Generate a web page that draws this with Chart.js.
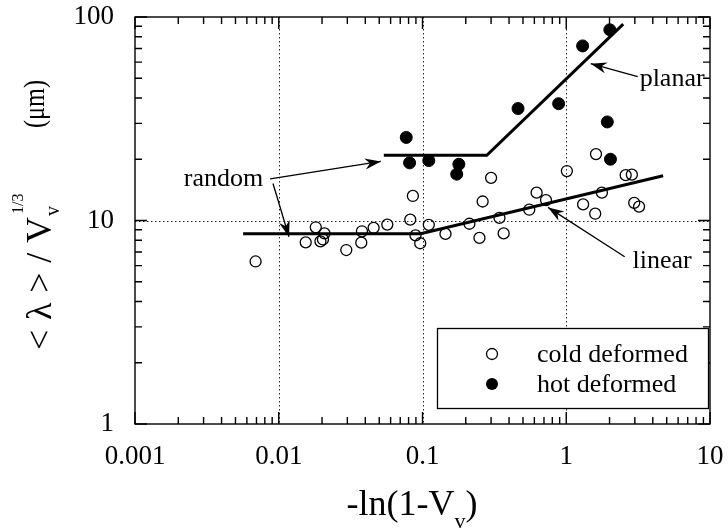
<!DOCTYPE html>
<html lang="en">
<head>
<meta charset="UTF-8">
<title>Spacing vs -ln(1-Vv)</title>
<script src="https://cdn.jsdelivr.net/npm/chart.js"></script>
<style>
  html, body { margin: 0; padding: 0; background: #fff; }
</style>
</head>
<body>
<canvas id="chart" width="728" height="529"></canvas>
<script>
// data
const coldX = [0.0069, 0.0154, 0.0181, 0.0208, 0.0195, 0.0203, 0.0295, 0.0379, 0.0375, 0.0457,
               0.0569, 0.0822, 0.0857, 0.0894, 0.0964, 0.1106, 0.1445, 0.212, 0.249, 0.300,
               0.262, 0.343, 0.367, 0.553, 0.622, 0.723, 1.01, 1.31, 1.59, 1.77,
               1.61, 2.59, 2.86, 2.97, 3.21];
const coldY = [6.29, 7.81, 9.26, 8.65, 7.90, 8.07, 7.16, 8.85, 7.78, 9.20,
               9.55, 10.1, 13.2, 8.45, 7.73, 9.52, 8.59, 9.64, 8.21, 16.2,
               12.4, 10.3, 8.64, 11.3, 13.7, 12.6, 17.5, 12.0, 10.8, 13.7,
               21.2, 16.7, 16.8, 12.2, 11.7];
const hotX = [0.0771, 0.0813, 0.1106, 0.179, 0.173, 0.462, 0.885, 1.30, 2.01, 1.93, 2.03];
const hotY = [25.6, 19.2, 19.7, 18.9, 16.9, 35.5, 37.5, 72.1, 86.5, 30.5, 20.0];

// fitted lines (random -> linear, random -> planar)
const coldFitX = [0.00565, 0.097, 4.72];
const coldFitY = [8.6, 8.6, 16.6];
const hotFitX = [0.0538, 0.28, 2.49];
const hotFitY = [20.9, 20.9, 92.3];

const xTicks = [0.001, 0.01, 0.1, 1, 10];
const xTickLabels = ['0.001', '0.01', '0.1', '1', '10'];
const yTicks = [1, 10, 100];
const yTickLabels = ['1', '10', '100'];
const seriesNames = ['cold deformed', 'hot deformed'];

// annotation labels and arrows, in data units
const notes = [
  { text: 'planar', x: 5.45, y: 45.8 },
  { text: 'linear', x: 4.64, y: 5.84 },
  { text: 'random', x: 0.00413, y: 14.7 }
];
const arrows = [
  { from: [3.14, 50.9], to: [1.48, 59.0] },
  { from: [2.55, 6.64], to: [0.747, 11.6] },
  { from: [0.00871, 16.0], to: [0.0513, 19.5] },
  { from: [0.00912, 15.2], to: [0.01178, 8.32] }
];

const SERIF = '"Liberation Serif", "Times New Roman", serif';

function pts(xs, ys) {
  return xs.map((x, i) => ({ x: x, y: ys[i] }));
}

function minors(lo, hi) {
  const out = [];
  for (let d = lo; d < hi * 0.999; d *= 10) {
    for (let k = 2; k <= 9; k++) out.push(d * k);
  }
  return out;
}

function noPad(s) {
  s.paddingTop = 0; s.paddingBottom = 0; s.paddingLeft = 0; s.paddingRight = 0;
}

function arrowHead(ctx, x1, y1, x2, y2) {
  const a = Math.atan2(y2 - y1, x2 - x1);
  const len = 16, half = 5.5, notch = 11;
  ctx.save();
  ctx.translate(x2, y2);
  ctx.rotate(a);
  ctx.beginPath();
  ctx.moveTo(0, 0);
  ctx.lineTo(-len, -half);
  ctx.lineTo(-notch, 0);
  ctx.lineTo(-len, half);
  ctx.closePath();
  ctx.fill();
  ctx.restore();
}

const framePlugin = {
  id: 'frame',
  beforeDatasetsDraw(chart) {
    const { ctx, chartArea: a, scales } = chart;
    ctx.save();
    ctx.strokeStyle = '#222';
    ctx.lineWidth = 1;
    ctx.setLineDash([1.5, 2.5]);
    xTicks.slice(1, -1).forEach(v => {
      const px = Math.round(scales.x.getPixelForValue(v)) + 0.5;
      ctx.beginPath(); ctx.moveTo(px, a.top); ctx.lineTo(px, a.bottom); ctx.stroke();
    });
    yTicks.slice(1, -1).forEach(v => {
      const py = Math.round(scales.y.getPixelForValue(v)) + 0.5;
      ctx.beginPath(); ctx.moveTo(a.left, py); ctx.lineTo(a.right, py); ctx.stroke();
    });
    ctx.restore();
  },
  afterDatasetsDraw(chart) {
    const { ctx, chartArea: a, scales } = chart;
    ctx.save();
    ctx.strokeStyle = '#000';
    ctx.fillStyle = '#000';
    ctx.lineWidth = 1.4;

    // inward ticks on four sides
    const tick = (v, len, horiz) => {
      if (horiz) {
        const px = scales.x.getPixelForValue(v);
        ctx.beginPath();
        ctx.moveTo(px, a.bottom); ctx.lineTo(px, a.bottom - len);
        ctx.moveTo(px, a.top); ctx.lineTo(px, a.top + len);
        ctx.stroke();
      } else {
        const py = scales.y.getPixelForValue(v);
        ctx.beginPath();
        ctx.moveTo(a.left, py); ctx.lineTo(a.left + len, py);
        ctx.moveTo(a.right, py); ctx.lineTo(a.right - len, py);
        ctx.stroke();
      }
    };
    xTicks.forEach(v => tick(v, 12, true));
    minors(0.001, 10).forEach(v => tick(v, 7, true));
    yTicks.forEach(v => tick(v, 12, false));
    minors(1, 100).forEach(v => tick(v, 7, false));

    ctx.strokeRect(a.left, a.top, a.right - a.left, a.bottom - a.top);

    // legend box
    const bx = a.right - 273, by = a.bottom - 96, bw = 271, bh = 80;
    ctx.fillStyle = '#fff';
    ctx.fillRect(bx, by, bw, bh);
    ctx.lineWidth = 1.3;
    ctx.strokeRect(bx + 0.5, by + 0.5, bw, bh);
    ctx.fillStyle = '#000';
    ctx.font = '26px ' + SERIF;
    ctx.textBaseline = 'middle';
    ctx.textAlign = 'left';
    const rows = [by + 26, by + 56];
    ctx.beginPath(); ctx.arc(bx + 55, rows[0], 5.5, 0, Math.PI * 2); ctx.stroke();
    ctx.beginPath(); ctx.arc(bx + 55, rows[1], 6, 0, Math.PI * 2); ctx.fill();
    ctx.fillText(seriesNames[0], bx + 100, rows[0] + 1);
    ctx.fillText(seriesNames[1], bx + 100, rows[1] + 1);

    // annotations
    ctx.textAlign = 'center';
    ctx.textBaseline = 'alphabetic';
    notes.forEach(n => {
      ctx.fillText(n.text, scales.x.getPixelForValue(n.x), scales.y.getPixelForValue(n.y));
    });
    ctx.lineWidth = 1.3;
    arrows.forEach(ar => {
      const x1 = scales.x.getPixelForValue(ar.from[0]), y1 = scales.y.getPixelForValue(ar.from[1]);
      const x2 = scales.x.getPixelForValue(ar.to[0]), y2 = scales.y.getPixelForValue(ar.to[1]);
      ctx.beginPath(); ctx.moveTo(x1, y1); ctx.lineTo(x2, y2); ctx.stroke();
      arrowHead(ctx, x1, y1, x2, y2);
    });
    ctx.restore();
  },
  afterDraw(chart) {
    const { ctx } = chart;
    ctx.save();
    ctx.fillStyle = '#000';
    ctx.textBaseline = 'alphabetic';
    ctx.textAlign = 'left';

    // x title: -ln(1-V_v)
    ctx.font = '36px ' + SERIF;
    const p1 = '-ln(1-V', p3 = ')';
    const w1 = ctx.measureText(p1).width, w3 = ctx.measureText(p3).width;
    ctx.font = '22px ' + SERIF;
    const w2 = ctx.measureText('v').width;
    let x0 = 412 - (w1 + w2 + w3) / 2;
    ctx.font = '36px ' + SERIF;
    ctx.fillText(p1, x0, 515);
    ctx.font = '22px ' + SERIF;
    ctx.fillText('v', x0 + w1, 528);
    ctx.font = '36px ' + SERIF;
    ctx.fillText(p3, x0 + w1 + w2, 515);

    // y title: <λ>/V_v^1/3 (μm)
    ctx.translate(51, 215);
    ctx.rotate(-Math.PI / 2);
    ctx.font = '36px ' + SERIF;
    const chars = ['<', 'λ', '>', '/', 'V'];
    const widths = chars.map(c => ctx.measureText(c).width);
    const total = 133;
    const gap = (total - widths.reduce((s, w) => s + w, 0)) / (chars.length - 1);
    let rx = -135;
    chars.forEach((c, i) => { ctx.fillText(c, rx, 0); rx += widths[i] + gap; });
    rx -= gap;
    ctx.font = '20px ' + SERIF;
    ctx.fillText('v', rx + 1, 8);
    ctx.font = '16px ' + SERIF;
    ctx.fillText('1/3', rx + 3, -28);
    // unit, a little condensed like the original
    ctx.font = '30px ' + SERIF;
    const wu = ctx.measureText('(μm)').width;
    const k = 48 / wu;
    ctx.translate(135 - 48, -7);
    ctx.scale(k, 1);
    ctx.fillText('(μm)', 0, 0);
    ctx.restore();
  }
};

new Chart(document.getElementById('chart'), {
  type: 'scatter',
  data: {
    datasets: [
      {
        label: 'random/linear',
        data: pts(coldFitX, coldFitY),
        showLine: true,
        borderColor: '#000',
        borderWidth: 3,
        pointRadius: 0,
        fill: false
      },
      {
        label: 'random/planar',
        data: pts(hotFitX, hotFitY),
        showLine: true,
        borderColor: '#000',
        borderWidth: 3,
        pointRadius: 0,
        fill: false
      },
      {
        label: seriesNames[0],
        data: pts(coldX, coldY),
        pointStyle: 'circle',
        pointRadius: 5.5,
        pointBorderWidth: 1.3,
        pointBorderColor: '#000',
        pointBackgroundColor: 'rgba(0,0,0,0)'
      },
      {
        label: seriesNames[1],
        data: pts(hotX, hotY),
        pointStyle: 'circle',
        pointRadius: 6,
        pointBorderWidth: 1,
        pointBorderColor: '#000',
        pointBackgroundColor: '#000'
      }
    ]
  },
  options: {
    responsive: false,
    animation: false,
    devicePixelRatio: 1,
    layout: { padding: { top: 17, right: 18, left: 0, bottom: 0 } },
    plugins: { legend: { display: false }, tooltip: { enabled: false } },
    scales: {
      x: {
        type: 'logarithmic',
        position: 'bottom',
        min: 0.001,
        max: 10,
        afterBuildTicks: s => { s.ticks = xTicks.map(v => ({ value: v })); },
        afterFit: s => { s.height = 105; noPad(s); },
        grid: { display: false, drawTicks: false },
        border: { display: false },
        ticks: {
          autoSkip: false,
          maxRotation: 0,
          padding: 17,
          color: '#000',
          font: { family: SERIF, size: 27 },
          callback: (v, i) => xTickLabels[i]
        }
      },
      y: {
        type: 'logarithmic',
        position: 'left',
        min: 1,
        max: 100,
        afterBuildTicks: s => { s.ticks = yTicks.map(v => ({ value: v })); },
        afterFit: s => { s.width = 135; noPad(s); },
        grid: { display: false, drawTicks: false },
        border: { display: false },
        ticks: {
          autoSkip: false,
          padding: 21,
          color: '#000',
          font: { family: SERIF, size: 27 },
          callback: (v, i) => yTickLabels[i]
        }
      }
    }
  },
  plugins: [framePlugin]
});
</script>
</body>
</html>
